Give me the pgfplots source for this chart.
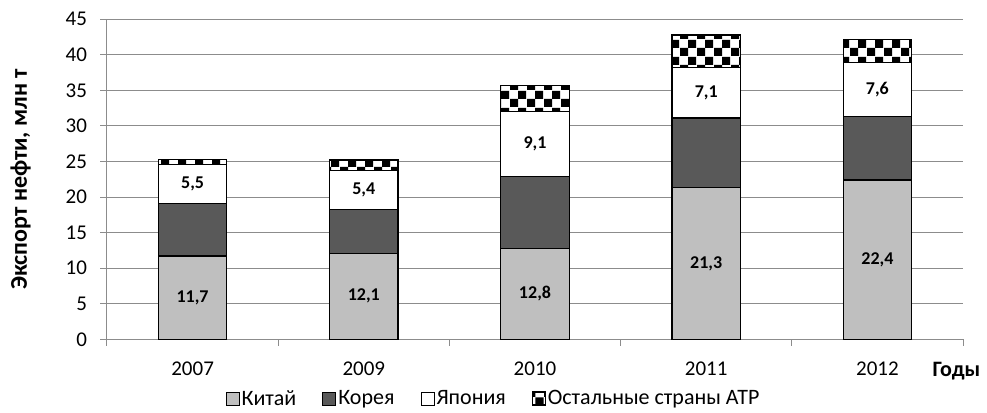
\documentclass[border=0pt]{standalone}
\usepackage{fontspec}
\setmainfont{Carlito}
\usepackage{pgfplots}
\pgfplotsset{compat=1.18}
\usepackage{pgfplotstable}
\usetikzlibrary{patterns}

\definecolor{chinagray}{HTML}{BFBFBF}
\definecolor{koreagray}{HTML}{595959}
\definecolor{gridgray}{HTML}{8C8C8C}
\newcommand{\tickfont}{\fontsize{21bp}{25bp}\selectfont}
\newcommand{\labfont}{\fontsize{18bp}{22bp}\selectfont\bfseries}
\newcommand{\legfont}{\fontsize{22bp}{26bp}\selectfont}
\newcommand{\ylabfont}{\fontsize{24bp}{28bp}\selectfont\bfseries}

\pgfdeclarepatternformonly{bigchecker}{\pgfpointorigin}{\pgfqpoint{17bp}{17bp}}{\pgfqpoint{17bp}{17bp}}{%
  \pgfpathrectangle{\pgfpointorigin}{\pgfqpoint{8.5bp}{8.5bp}}%
  \pgfpathrectangle{\pgfqpoint{8.5bp}{8.5bp}}{\pgfqpoint{8.5bp}{8.5bp}}%
  \pgfusepath{fill}}

\pgfplotstableread{
x china korea japan others
0 11.7 7.4 5.5 0.7
1 12.1 6.2 5.4 1.5
2 12.8 10.1 9.1 3.7
3 21.3 9.8 7.1 4.6
4 22.4 8.9 7.6 3.3
}\data

\pgfplotstableread{
x y label
0 5.85 11,7
1 6.05 12,1
2 6.4 12,8
3 10.65 21,3
4 11.2 22,4
0 21.85 5,5
1 21.0 5,4
2 27.45 9,1
3 34.65 7,1
4 35.1 7,6
}\labels

\begin{document}
\begin{tikzpicture}
\begin{axis}[name=ax, scale only axis, width=856bp, height=320bp,
  ybar stacked, bar width=0.4,
  xmin=-0.5, xmax=4.5, ymin=0, ymax=45,
  xtick={-0.5,0.5,1.5,2.5,3.5,4.5},
  xticklabels={2007,2009,2010,2011,2012},
  x tick label as interval,
  ytick={0,5,...,45},
  ymajorgrids, grid style={draw=gridgray, line width=1bp},
  axis x line*=bottom, axis y line*=left,
  axis line style={draw=gridgray, line width=1bp, -},
  tick align=outside, major tick length=6.5bp,
  tick style={draw=gridgray, line width=1bp},
  tick label style={font=\tickfont},
  xticklabel style={yshift=-13bp},
  yticklabel style={xshift=-10bp},
  /pgf/number format/assume math mode=true,
  ylabel={Экспорт нефти, млн т},
  ylabel style={font=\ylabfont, at={(axis description cs:-0.101,0.5)}, anchor=center},
  xlabel={Годы},
  xlabel style={font=\fontsize{22bp}{26bp}\selectfont\bfseries, at={(axis description cs:0.9924,-0.1147)}, anchor=base},
  legend style={at={(0.4515,-0.185)}, anchor=center, draw=none, fill=none,
    legend columns=-1, font=\legfont, legend cell align=left,
    /tikz/every even column/.append style={column sep=24bp},
    /tikz/every odd column/.append style={column sep=0bp}},
  every axis plot/.append style={draw=black, line width=1.3bp},
  every axis plot post/.append style={legend image code/.code={\draw[##1,line width=1bp] (0bp,-6.5bp) rectangle (13bp,6.5bp);}},
]
\addplot[fill=chinagray] table[x=x,y=china]{\data};
\addlegendentry{Китай}
\addplot[fill=koreagray] table[x=x,y=korea]{\data};
\addlegendentry{Корея}
\addplot[fill=white] table[x=x,y=japan]{\data};
\addlegendentry{Япония}
\addplot[preaction={fill=white}, pattern=bigchecker, pattern color=black] table[x=x,y=others]{\data};
\addlegendentry{Остальные страны АТР}
\end{axis}
\begin{axis}[scale only axis, width=856bp, height=320bp,
  xmin=-0.5, xmax=4.5, ymin=0, ymax=45, hide axis]
\addplot[draw=none, mark=none, nodes near coords, point meta=explicit symbolic,
  nodes near coords align={anchor=center},
  nodes near coords style={font=\labfont, text=black}]
  table[x=x,y=y,meta=label]{\labels};
\end{axis}
\pgfresetboundingbox
\path ([shift={(-107bp,-73.7bp)}]ax.south west) rectangle ([shift={(24bp,19.3bp)}]ax.north east);
\end{tikzpicture}
\end{document}
